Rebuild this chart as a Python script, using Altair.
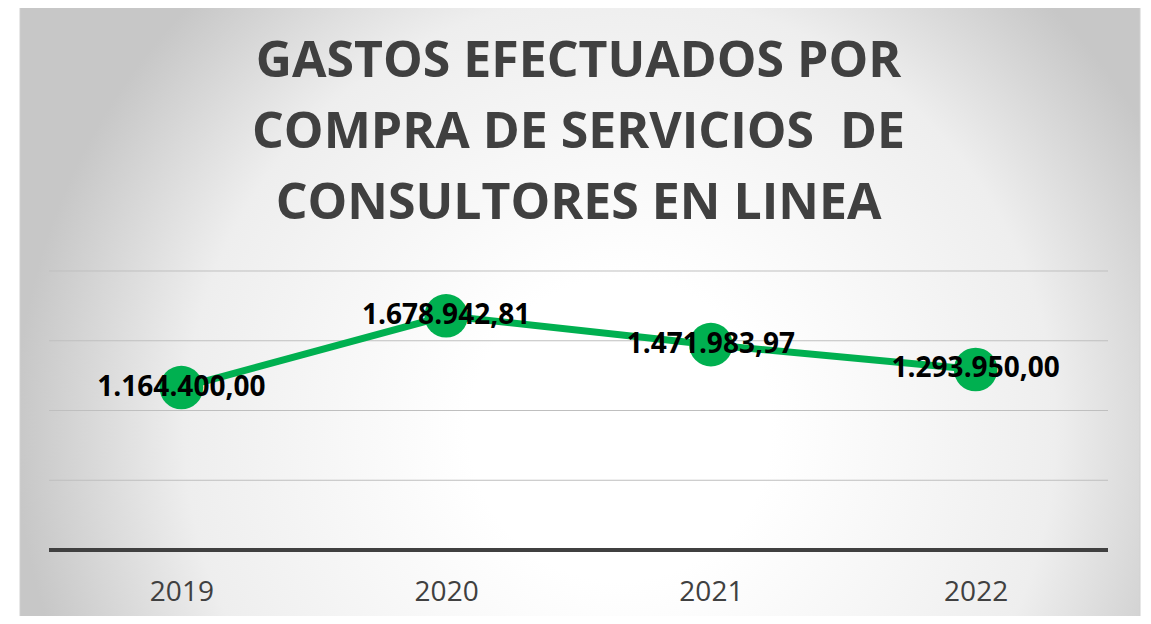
import altair as alt
import pandas as pd

years = ["2019", "2020", "2021", "2022"]
values = [1164400.00, 1678942.81, 1471983.97, 1293950.00]
grid_values = [500000, 1000000, 1500000, 2000000]
title_lines = ["GASTOS EFECTUADOS POR", "COMPRA DE SERVICIOS \u00a0DE", "CONSULTORES EN LINEA"]


def fmt_es(v):
    s = f"{v:,.2f}"
    return s.replace(",", "X").replace(".", ",").replace("X", ".")


df = pd.DataFrame({"year": years, "value": values, "label": [fmt_es(v) for v in values]})
grid_df = pd.DataFrame({"g": grid_values})

W, H = 1059, 279
GREEN = "#00B050"

x_enc = alt.X(
    "year:N",
    sort=years,
    scale=alt.Scale(type="point", padding=0.5),
    axis=alt.Axis(
        title=None, domain=False, ticks=False, grid=False,
        labelFont="Open Sans", labelFontSize=28, labelColor="#404040",
        labelPadding=28, labelAngle=0, zindex=1,
    ),
)
y_scale = alt.Scale(domain=[0, 2000000], nice=False, zero=True)

bg = alt.Chart(pd.DataFrame({"a": [0]})).mark_rect(
    stroke="#d0d0d0", strokeWidth=1,
    color=alt.RadialGradient(
        gradient="radial",
        x1=0.536, y1=0.604, r1=0,
        x2=0.536, y2=0.604, r2=0.54,
        stops=[
            alt.GradientStop(offset=0, color="#ffffff"),
            alt.GradientStop(offset=0.25, color="#ffffff"),
            alt.GradientStop(offset=0.72, color="#eeeeee"),
            alt.GradientStop(offset=1, color="#c7c7c7"),
        ],
    ),
).encode(
    x=alt.value(-29), x2=alt.value(1091), y=alt.value(-268), y2=alt.value(353)
)

grid = alt.Chart(grid_df).mark_rule(color="#bfbfbf", strokeWidth=1).encode(
    y=alt.Y("g:Q", scale=y_scale, axis=None),
    x=alt.value(0), x2=alt.value(W),
)

base_rule = alt.Chart(pd.DataFrame({"z": [0]})).mark_rule(color="#404040", strokeWidth=4).encode(
    y=alt.Y("z:Q", scale=y_scale, axis=None),
    x=alt.value(0), x2=alt.value(W),
)

base = alt.Chart(df).encode(x=x_enc, y=alt.Y("value:Q", scale=y_scale, axis=None))

line = base.mark_line(color=GREEN, strokeWidth=7)
points = base.mark_circle(color=GREEN, opacity=1, size=1900)
labels = base.mark_text(
    font="Open Sans", fontSize=28, fontWeight="bold", color="#000000",
    align="center", baseline="middle",
).encode(text="label:N")

chart = alt.layer(bg, grid, base_rule, line, points, labels).properties(
    width=W, height=H,
    title=alt.Title(
        text=title_lines, font="Open Sans", fontSize=50, fontWeight="bold",
        color="#404040", lineHeight=71, anchor="middle", baseline="bottom",
        offset=0, dy=276, frame="group",
    ),
    autosize=alt.AutoSizeParams(type="none"),
    padding={"left": 41, "top": 263, "right": 35, "bottom": 66},
    background="#ffffff",
).configure_view(stroke=None)

chart.save("out.html", embed_options={"renderer": "svg", "actions": False})
